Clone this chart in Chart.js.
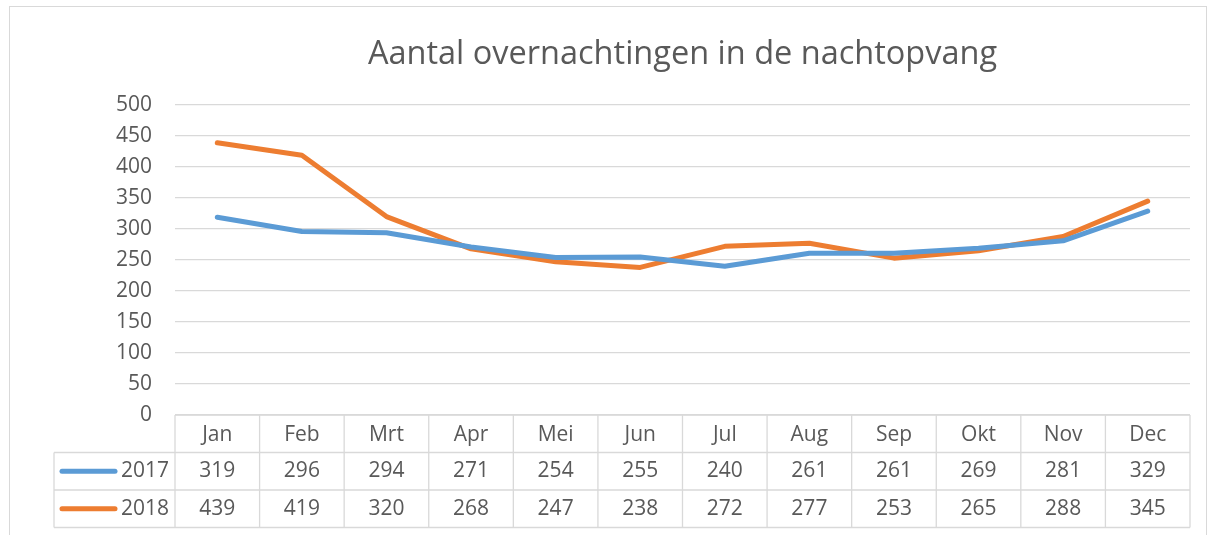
<!DOCTYPE html>
<html>
<head>
<meta charset="utf-8">
<script src="https://cdn.jsdelivr.net/npm/chart.js@4"></script>
<style>
  html, body { margin: 0; padding: 0; background: #fff; }
  canvas { display: block; }
</style>
</head>
<body>
<canvas id="nightChart" width="1214" height="535"></canvas>
<script>
// Data
const months = ['Jan', 'Feb', 'Mrt', 'Apr', 'Mei', 'Jun', 'Jul', 'Aug', 'Sep', 'Okt', 'Nov', 'Dec'];
const nights2017 = [319, 296, 294, 271, 254, 255, 240, 261, 261, 269, 281, 329];
const nights2018 = [439, 419, 320, 268, 247, 238, 272, 277, 253, 265, 288, 345];
const yTicks = [0, 50, 100, 150, 200, 250, 300, 350, 400, 450, 500];

const textColor = '#595959';
const gridColor = '#D9D9D9';
const fontFamily = '"Open Sans", "Liberation Sans", sans-serif';
const ROW_H = 37.5;

// Draws the data table under the plot (header borders + value rows + legend keys)
const dataTablePlugin = {
  id: 'dataTable',
  beforeDraw(chart) {
    const ctx = chart.ctx;
    ctx.save();
    ctx.strokeStyle = gridColor;
    ctx.lineWidth = 1;
    ctx.strokeRect(9.5, 6.5, 1197, 600);
    ctx.restore();
  },
  afterDraw(chart) {
    const ctx = chart.ctx;
    const area = chart.chartArea;
    const xScale = chart.scales.x;
    const colW = (area.right - area.left) / months.length;
    const top = area.bottom;
    const legendLeft = 54;
    const rows = chart.data.datasets;

    ctx.save();
    ctx.strokeStyle = gridColor;
    ctx.lineWidth = 1.3;
    ctx.beginPath();
    // horizontal lines
    ctx.moveTo(area.left, top);
    ctx.lineTo(area.right, top);
    for (let r = 1; r <= rows.length + 1; r++) {
      const y = top + r * ROW_H;
      ctx.moveTo(legendLeft, y);
      ctx.lineTo(area.right, y);
    }
    // vertical lines
    for (let i = 0; i <= months.length; i++) {
      const x = area.left + i * colW;
      ctx.moveTo(x, top);
      ctx.lineTo(x, top + (rows.length + 1) * ROW_H);
    }
    ctx.moveTo(legendLeft, top + ROW_H);
    ctx.lineTo(legendLeft, top + (rows.length + 1) * ROW_H);
    ctx.stroke();

    ctx.font = '21px ' + fontFamily;
    ctx.fillStyle = textColor;
    ctx.textBaseline = 'middle';
    rows.forEach((ds, r) => {
      const yMid = top + (r + 1) * ROW_H + ROW_H / 2;
      // legend key
      ctx.strokeStyle = ds.borderColor;
      ctx.lineWidth = 5;
      ctx.lineCap = 'round';
      ctx.beginPath();
      ctx.moveTo(62, yMid);
      ctx.lineTo(115, yMid);
      ctx.stroke();
      ctx.textAlign = 'right';
      ctx.fillText(ds.label, area.left - 6, yMid);
      // values
      ctx.textAlign = 'center';
      ds.data.forEach((v, i) => {
        ctx.fillText(String(v), xScale.getPixelForValue(i), yMid);
      });
    });
    ctx.restore();
  }
};

new Chart(document.getElementById('nightChart').getContext('2d'), {
  type: 'line',
  data: {
    labels: months,
    datasets: [
      {
        label: '2017',
        data: nights2017,
        borderColor: '#5B9BD5',
        backgroundColor: '#5B9BD5',
        borderWidth: 5,
        pointRadius: 0,
        tension: 0,
        borderCapStyle: 'round',
        borderJoinStyle: 'round'
      },
      {
        label: '2018',
        data: nights2018,
        borderColor: '#ED7D31',
        backgroundColor: '#ED7D31',
        borderWidth: 5,
        pointRadius: 0,
        tension: 0,
        borderCapStyle: 'round',
        borderJoinStyle: 'round'
      }
    ]
  },
  options: {
    responsive: false,
    animation: false,
    layout: {
      padding: { left: 10, right: 24, top: 0, bottom: 0 }
    },
    plugins: {
      legend: { display: false },
      tooltip: { enabled: false },
      title: {
        display: true,
        text: 'Aantal overnachtingen in de nachtopvang',
        fullSize: false,
        color: textColor,
        font: { family: fontFamily, size: 32.5, weight: 'normal' },
        padding: { top: 35.5, bottom: 30.5 }
      }
    },
    scales: {
      x: {
        offset: true,
        grid: { display: false, drawTicks: false },
        border: { display: false },
        ticks: {
          color: textColor,
          font: { family: fontFamily, size: 21 },
          padding: 7,
          maxRotation: 0,
          autoSkip: false
        },
        afterFit(scale) { scale.height = 120; }
      },
      y: {
        min: 0,
        max: 500,
        afterBuildTicks(scale) { scale.ticks = yTicks.map(v => ({ value: v })); },
        grid: { color: gridColor, lineWidth: 1.3, drawTicks: false },
        border: { display: false },
        ticks: {
          color: textColor,
          font: { family: fontFamily, size: 21 },
          padding: 23
        },
        afterFit(scale) { scale.width = 165; }
      }
    }
  },
  plugins: [dataTablePlugin]
});
</script>
</body>
</html>
